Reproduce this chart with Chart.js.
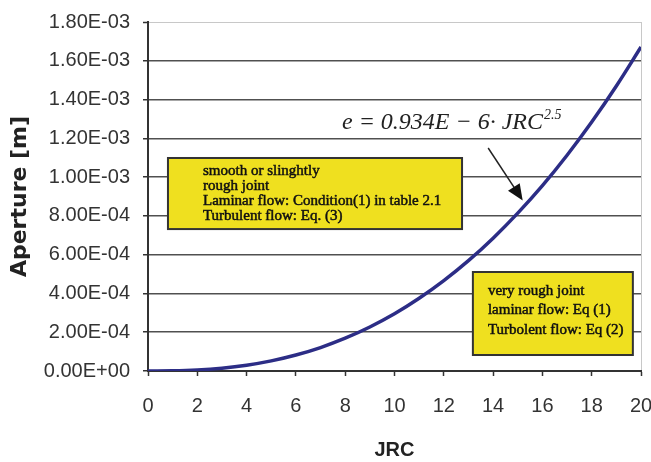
<!DOCTYPE html>
<html>
<head>
<meta charset="utf-8">
<script src="https://cdn.jsdelivr.net/npm/chart.js@4/dist/chart.umd.min.js"></script>
<style>
  html, body { margin: 0; padding: 0; background: #ffffff; }
  canvas { display: block; }
</style>
</head>
<body>
<canvas id="chart" width="651" height="462"></canvas>
<script>
// Joint roughness coefficient and the hydraulic aperture
const jrc = [0, 1, 2, 3, 4, 5, 6, 7, 8, 9, 10, 11, 12, 13, 14, 15, 16, 17, 18, 19, 20];
const aperture = [
  0, 0.9e-6, 5.3e-6, 14.6e-6, 29.9e-6, 52.2e-6, 82.4e-6, 121e-6, 169e-6, 227e-6,
  295e-6, 375e-6, 466e-6, 569e-6, 685e-6, 814e-6, 956e-6, 1113e-6, 1284e-6, 1470e-6, 1671e-6
];

// Axis tick values
const jrcTicks = [0, 2, 4, 6, 8, 10, 12, 14, 16, 18, 20];
const apertureTicks = [0, 2e-4, 4e-4, 6e-4, 8e-4, 10e-4, 12e-4, 14e-4, 16e-4, 18e-4];

// Text of the notes placed on the plot
const equationMain = 'e = 0.934E \u2212 6\u00b7 JRC';
const equationExp = '2.5';
const smoothNote = ['smooth or slinghtly', 'rough joint', 'Laminar flow: Condition(1) in table 2.1', 'Turbulent flow: Eq. (3)'];
const roughNote = ['very rough joint', 'laminar flow: Eq (1)', 'Turbolent flow: Eq (2)'];

function sciLabel(v) {
  const s = Number(v).toExponential(2).toUpperCase();
  return s.replace(/E([+-])(\d)$/, 'E$10$2');
}

const notesPlugin = {
  id: 'notes',
  afterDraw(chart) {
    const ctx = chart.ctx;
    const xs = chart.scales.x, ys = chart.scales.y;
    const px = v => xs.getPixelForValue(v);
    const py = v => ys.getPixelForValue(v);

    function noteBox(x0, y0, x1, y1, lines, dx, baselines) {
      const L = px(x0), T = py(y0), R = px(x1), B = py(y1);
      ctx.save();
      ctx.fillStyle = '#efe01f';
      ctx.fillRect(L, T, R - L, B - T);
      ctx.strokeStyle = '#333333';
      ctx.lineWidth = 2;
      ctx.strokeRect(L, T, R - L, B - T);
      ctx.fillStyle = '#111111';
      ctx.strokeStyle = '#111111';
      ctx.lineWidth = 0.5;
      ctx.font = '15px "Liberation Serif", "Times New Roman", serif';
      ctx.textBaseline = 'alphabetic';
      ctx.textAlign = 'left';
      lines.forEach((t, i) => {
        ctx.fillText(t, L + dx, T + baselines[i]);
        ctx.strokeText(t, L + dx, T + baselines[i]);
      });
      ctx.restore();
    }

    noteBox(0.81, 1.0986e-3, 12.74, 0.732e-3, smoothNote, 35, [17, 32, 47, 62]);
    noteBox(13.18, 0.5106e-3, 19.67, 0.0825e-3, roughNote, 15, [23, 42, 62]);

    // equation label
    ctx.save();
    ctx.fillStyle = '#222222';
    ctx.textAlign = 'left';
    ctx.textBaseline = 'alphabetic';
    ctx.font = 'italic 24px "Liberation Serif", "Times New Roman", serif';
    const ex = px(7.87), ey = py(1.25e-3);
    ctx.fillText(equationMain, ex, ey);
    const w = ctx.measureText(equationMain).width;
    ctx.font = 'italic 14px "Liberation Serif", "Times New Roman", serif';
    ctx.fillText(equationExp, ex + w + 1, ey - 10);
    ctx.restore();

    // arrow pointing at the curve
    const ax0 = px(13.8), ay0 = py(1.15e-3), ax1 = px(15.2), ay1 = py(0.88e-3);
    const ang = Math.atan2(ay1 - ay0, ax1 - ax0);
    ctx.save();
    ctx.strokeStyle = '#222222';
    ctx.fillStyle = '#111111';
    ctx.lineWidth = 1.5;
    ctx.beginPath();
    ctx.moveTo(ax0, ay0);
    ctx.lineTo(ax1 - 12 * Math.cos(ang), ay1 - 12 * Math.sin(ang));
    ctx.stroke();
    ctx.beginPath();
    ctx.moveTo(ax1, ay1);
    ctx.lineTo(ax1 - 16 * Math.cos(ang) + 7 * Math.sin(ang), ay1 - 16 * Math.sin(ang) - 7 * Math.cos(ang));
    ctx.lineTo(ax1 - 16 * Math.cos(ang) - 7 * Math.sin(ang), ay1 - 16 * Math.sin(ang) + 7 * Math.cos(ang));
    ctx.closePath();
    ctx.fill();
    ctx.restore();
  }
};

const tickFont = { family: '"Liberation Sans", Arial, sans-serif', size: 20 };

new Chart(document.getElementById('chart'), {
  type: 'line',
  data: {
    datasets: [{
      data: jrc.map((x, i) => ({ x: x, y: aperture[i] })),
      borderColor: '#2c2d86',
      borderWidth: 3.5,
      pointRadius: 0,
      tension: 0.4,
      fill: false
    }]
  },
  options: {
    responsive: false,
    animation: false,
    layout: { padding: { left: 0, top: 22, right: 10, bottom: 0 } },
    plugins: { legend: { display: false }, tooltip: { enabled: false } },
    scales: {
      x: {
        type: 'linear',
        min: 0,
        max: 20,
        afterBuildTicks: s => { s.ticks = jrcTicks.map(v => ({ value: v })); },
        afterFit: s => { s.height = 91; s.paddingLeft = 0; s.paddingRight = 0; },
        ticks: { font: tickFont, color: '#333333', padding: 18, maxRotation: 0 },
        grid: {
          color: c => (c.index === jrcTicks.length - 1 ? '#c8c8c8' : 'rgba(0,0,0,0)'),
          lineWidth: 1,
          tickColor: '#333333',
          tickWidth: 1.5,
          tickLength: 5
        },
        border: { color: '#333333', width: 2 },
        title: {
          display: true,
          text: 'JRC',
          color: '#222222',
          font: { family: '"Liberation Sans", Arial, sans-serif', size: 20, weight: 'bold' },
          padding: { top: 0, bottom: 0 }
        }
      },
      y: {
        type: 'linear',
        min: 0,
        max: 1.8e-3,
        afterBuildTicks: s => { s.ticks = apertureTicks.map(v => ({ value: v })); },
        afterFit: s => { s.width = 148; s.paddingTop = 0; s.paddingBottom = 0; },
        ticks: { font: tickFont, color: '#333333', padding: 13, callback: v => sciLabel(v) },
        grid: {
          color: c => (c.index === apertureTicks.length - 1 ? '#c8c8c8' : '#505050'),
          lineWidth: c => (c.index === apertureTicks.length - 1 ? 1 : 1.5),
          tickColor: '#333333',
          tickWidth: 1.5,
          tickLength: 5
        },
        border: { color: '#333333', width: 2 },
        title: {
          display: true,
          text: 'Aperture [m]',
          color: '#222222',
          font: { family: '"DejaVu Sans", sans-serif', size: 22, weight: 'bold' },
          padding: { top: 7, bottom: 0 }
        }
      }
    }
  },
  plugins: [notesPlugin]
});
</script>
</body>
</html>
